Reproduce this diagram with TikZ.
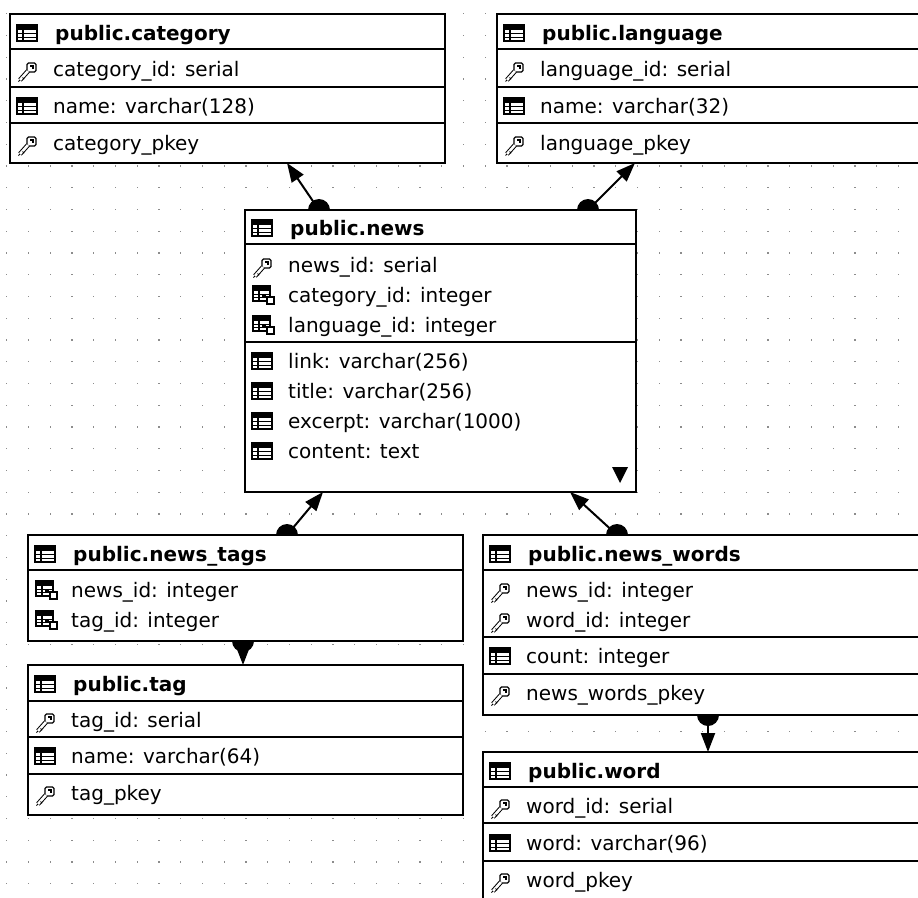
\documentclass[tikz,border=0pt]{standalone}
\usepackage{fontspec}
\setmainfont{DejaVu Sans}
\usetikzlibrary{arrows.meta}
\tikzset{
  tbl/.style={draw, line width=2pt, fill=white, anchor=north west, inner sep=0pt, outer sep=0pt},
  sepline/.style={line width=2pt},
  fldtxt/.style={anchor=base west, inner sep=0pt, font=\fontsize{20}{23}\selectfont},
  hdrtxt/.style={anchor=base west, inner sep=0pt, font=\fontsize{20}{23}\selectfont\bfseries},
  rel/.style={line width=2pt, -{Triangle[length=19pt,width=14pt]}},
  reldot/.style={fill=black},
  gridpt/.style={fill=black!45},
  tblico/.pic={
    \draw[line width=1.5pt] (-10,-15) rectangle (10,1);
    \fill (-10,-15) rectangle (10,-10.5);
    \draw[line width=1.3pt] (-10,-6.5) -- (10,-6.5) (-10,-2.7) -- (10,-2.7) (-4,-10.5) -- (-4,1);
  },
  fkico/.pic={
    \draw[line width=1.4pt] (-9,-16) rectangle (8,-1);
    \fill (-9,-16) rectangle (8,-11.5);
    \draw[line width=1.2pt] (-9,-7.8) -- (8,-7.8) (-9,-4.2) -- (8,-4.2) (-3,-11.5) -- (-3,-1);
    \fill (0,-7.5) rectangle (3.5,-4.5);
    \filldraw[fill=white, line width=1.2pt] (5,-5) rectangle (12,2);
  },
  keyico/.pic={
    \draw[line width=1.2pt, fill=white, rounded corners=1.5pt] (0,-13) rectangle (9,-4);
    \draw[line width=1.2pt] (3,-10) -- (6,-10) -- (6,-7);
    \draw[line width=1pt, double=white, double distance=2.6pt] (1,-5) -- (-7,4);
    \draw[line width=1pt] (-4.5,1.5) -- (-2.8,3.2) (-7,4) -- (-8.5,5.5);
  },
}
\newcommand\thead[4]{\pic at (#2+17,#3) {tblico}; \node[hdrtxt] (#1) at (#2+45,#3) {#4};}
\newcommand\tfield[5]{\pic at (#2+17,#3) {#4}; \node[fldtxt] (#1) at (#2+43,#3) {#5};}
\begin{document}
\begin{tikzpicture}[x=1pt,y=-1pt]
\useasboundingbox (0,0) rectangle (918,897);
\clip (0,0) rectangle (918,897);
\fill[white] (0,0) rectangle (918,897);
% grid
\foreach \i in {0,...,42}{
  \foreach \j in {0,...,41}{
    \fill[gridpt] ({6.7+21.75*\i-0.65},{13.7+21.75*\j-0.65}) rectangle ++(1.3,1.3);
  }
}
% relation endpoints
\coordinate (r1s) at (319,210); \coordinate (r1t) at (287,163);
\coordinate (r2s) at (588,210); \coordinate (r2t) at (635,163);
\coordinate (r3s) at (287,535); \coordinate (r3t) at (323,492);
\coordinate (r4s) at (617,535); \coordinate (r4t) at (570,492);
\coordinate (r5s) at (243,641); \coordinate (r5t) at (243,665);
\coordinate (r6s) at (708,715); \coordinate (r6t) at (708,752);
\foreach \c in {r1s,r2s,r3s,r4s,r5s,r6s}{\fill[reldot] (\c) circle (11);}
% tables
\node[tbl, minimum width=435pt, minimum height=149pt] (category) at (10,14) {};
\node[tbl, minimum width=460pt, minimum height=149pt] (language) at (497,14) {};
\node[tbl, minimum width=391pt, minimum height=282pt] (news) at (245,210) {};
\node[tbl, minimum width=435pt, minimum height=106pt] (newstags) at (28,535) {};
\node[tbl, minimum width=435pt, minimum height=150pt] (tag) at (28,665) {};
\node[tbl, minimum width=460pt, minimum height=180pt] (newswords) at (483,535) {};
\node[tbl, minimum width=460pt, minimum height=200pt] (word) at (483,752) {};
% category
\draw[sepline] (10,49) -- (445,49) (10,87) -- (445,87) (10,123) -- (445,123);
\thead{cath}{10}{40}{public.category}
\tfield{cat1}{10}{76}{keyico}{category\_id: serial}
\tfield{cat2}{10}{113}{tblico}{name: varchar(128)}
\tfield{cat3}{10}{150}{keyico}{category\_pkey}
% language
\draw[sepline] (497,49) -- (918,49) (497,87) -- (918,87) (497,123) -- (918,123);
\thead{lanh}{497}{40}{public.language}
\tfield{lan1}{497}{76}{keyico}{language\_id: serial}
\tfield{lan2}{497}{113}{tblico}{name: varchar(32)}
\tfield{lan3}{497}{150}{keyico}{language\_pkey}
% news
\draw[sepline] (245,244) -- (636,244) (245,342) -- (636,342);
\thead{newsh}{245}{235}{public.news}
\tfield{news1}{245}{272}{keyico}{news\_id: serial}
\tfield{news2}{245}{302}{fkico}{category\_id: integer}
\tfield{news3}{245}{332}{fkico}{language\_id: integer}
\tfield{news4}{245}{368}{tblico}{link: varchar(256)}
\tfield{news5}{245}{398}{tblico}{title: varchar(256)}
\tfield{news6}{245}{428}{tblico}{excerpt: varchar(1000)}
\tfield{news7}{245}{458}{tblico}{content: text}
\fill (612,467) -- (628,467) -- (620,483) -- cycle;
% news_tags
\draw[sepline] (28,570) -- (463,570);
\thead{ntagh}{28}{561}{public.news\_tags}
\tfield{ntag1}{28}{597}{fkico}{news\_id: integer}
\tfield{ntag2}{28}{627}{fkico}{tag\_id: integer}
% tag
\draw[sepline] (28,701) -- (463,701) (28,737) -- (463,737) (28,774) -- (463,774);
\thead{tagh}{28}{691}{public.tag}
\tfield{tag1}{28}{727}{keyico}{tag\_id: serial}
\tfield{tag2}{28}{763}{tblico}{name: varchar(64)}
\tfield{tag3}{28}{800}{keyico}{tag\_pkey}
% news_words
\draw[sepline] (483,570) -- (918,570) (483,637) -- (918,637) (483,674) -- (918,674);
\thead{nwh}{483}{561}{public.news\_words}
\tfield{nw1}{483}{597}{keyico}{news\_id: integer}
\tfield{nw2}{483}{627}{keyico}{word\_id: integer}
\tfield{nw3}{483}{663}{tblico}{count: integer}
\tfield{nw4}{483}{700}{keyico}{news\_words\_pkey}
% word
\draw[sepline] (483,787) -- (918,787) (483,823) -- (918,823) (483,861) -- (918,861);
\thead{wh}{483}{778}{public.word}
\tfield{w1}{483}{813}{keyico}{word\_id: serial}
\tfield{w2}{483}{850}{tblico}{word: varchar(96)}
\tfield{w3}{483}{887}{keyico}{word\_pkey}
% relations
\draw[rel] (r1s) -- (r1t);
\draw[rel] (r2s) -- (r2t);
\draw[rel] (r3s) -- (r3t);
\draw[rel] (r4s) -- (r4t);
\draw[rel] (r5s) -- (r5t);
\draw[rel] (r6s) -- (r6t);
\end{tikzpicture}
\end{document}
